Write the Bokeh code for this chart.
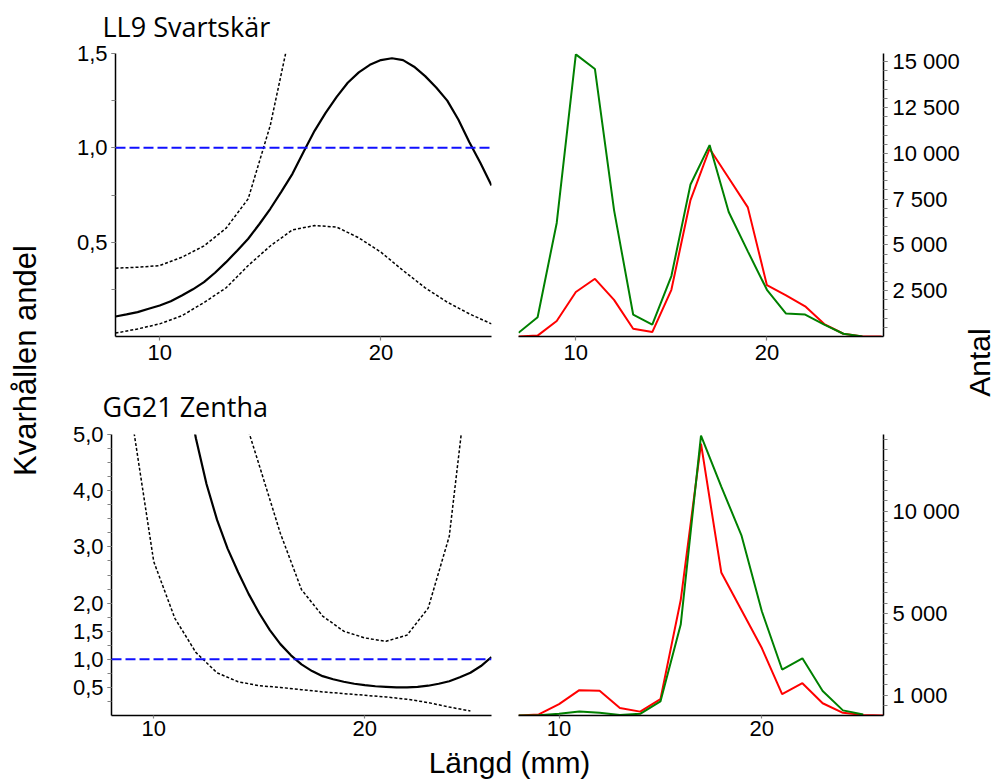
import math
from bokeh.plotting import figure
from bokeh.layouts import row, column
from bokeh.models import Range1d, FixedTicker, Label, Span
from bokeh.embed import file_html
from bokeh.resources import INLINE

# ---------------- data ----------------
# LL9 Svartskär – retained proportion (left)
tl_est_x = [8, 8.5, 9, 9.5, 10, 10.5, 11, 11.5, 12, 12.5, 13, 13.5, 14, 14.5, 15, 15.5, 16, 16.5,
            17, 17.5, 18, 18.5, 19, 19.5, 20, 20.5, 21, 21.5, 22, 22.5, 23, 23.5, 24, 24.5, 25]
tl_est = [0.106, 0.117, 0.129, 0.147, 0.164, 0.187, 0.217, 0.25, 0.288, 0.338, 0.394, 0.455, 0.518,
          0.595, 0.677, 0.768, 0.862, 0.978, 1.09, 1.185, 1.27, 1.345, 1.40, 1.44, 1.465, 1.475,
          1.465, 1.43, 1.38, 1.32, 1.25, 1.15, 1.03, 0.92, 0.80]
tl_upper_x = [8, 9, 10, 11, 12, 13, 14, 15, 16]
tl_upper = [0.362, 0.367, 0.376, 0.42, 0.48, 0.574, 0.73, 1.12, 1.67]
tl_lower_x = [8, 9, 10, 11, 12, 13, 14, 15, 16, 17, 18, 19, 20, 21, 22, 23, 24, 25]
tl_lower = [0.018, 0.04, 0.067, 0.11, 0.18, 0.258, 0.376, 0.48, 0.565, 0.588, 0.58, 0.523, 0.447,
            0.35, 0.258, 0.182, 0.12, 0.067]

# LL9 Svartskär – counts (right)
tr_green_x = [7, 8, 9, 10, 11, 12, 13, 14, 15, 16, 17, 18, 19, 20, 21, 22, 23, 24, 25]
tr_green = [200, 1050, 6200, 15400, 14600, 6900, 1200, 650, 3300, 8300, 10450, 6800, 4650, 2550,
            1250, 1200, 650, 150, 0]
tr_red_x = [7, 8, 9, 10, 11, 12, 13, 14, 15, 16, 17, 18, 19, 20, 21, 22, 23, 24, 25, 26]
tr_red = [0, 50, 850, 2430, 3150, 2000, 420, 240, 2550, 7450, 10250, 8650, 7050, 2800, 2250, 1650,
          680, 150, 0, 0]

# GG21 Zentha – retained proportion (left)
bl_est_x = [11, 11.5, 12, 12.5, 13, 13.5, 14, 14.5, 15, 15.5, 16, 16.5, 17, 17.5, 18, 18.5, 19, 19.5,
            20, 20.5, 21, 21.5, 22, 22.5, 23, 23.5, 24, 24.5, 25, 25.5, 26]
bl_est = [7.2, 5.9, 4.93, 4.12, 3.48, 2.97, 2.55, 2.16, 1.82, 1.52, 1.27, 1.07, 0.91, 0.79, 0.70,
          0.645, 0.60, 0.565, 0.54, 0.52, 0.51, 0.50, 0.50, 0.51, 0.53, 0.565, 0.61, 0.68, 0.76, 0.88, 1.04]
bl_lower_x = [9, 10, 11, 12, 13, 14, 15, 16, 17, 18, 19, 20, 21, 22, 23, 24, 25]
bl_lower = [5.2, 2.74, 1.73, 1.12, 0.76, 0.60, 0.53, 0.50, 0.46, 0.42, 0.39, 0.36, 0.33, 0.29, 0.23,
            0.15, 0.08]
bl_upper_x = [14, 15, 16, 17, 18, 19, 20, 21, 22, 23, 24, 25]
bl_upper = [5.65, 4.45, 3.24, 2.24, 1.77, 1.50, 1.38, 1.32, 1.43, 1.91, 3.19, 6.4]

# GG21 Zentha – counts (right)
br_green_x = [8, 9, 10, 11, 12, 13, 14, 15, 16, 17, 18, 19, 20, 21, 22, 23, 24, 25]
br_green = [0, 10, 80, 190, 130, 30, 80, 690, 4450, 13700, 11200, 8800, 5100, 2250, 2800, 1200, 250, 50]
br_red_x = [8, 9, 10, 11, 12, 13, 14, 15, 16, 17, 18, 19, 20, 21, 22, 23, 24, 25, 26]
br_red = [0, 50, 560, 1240, 1210, 370, 190, 800, 5650, 13300, 7000, 5150, 3300, 1050, 1580, 600,
          130, 30, 0]

# ticks
x_ticks = [10, 20]
x_labels = ["10", "20"]
tl_y_ticks = [0.5, 1.0, 1.5]
tl_y_labels = ["0,5", "1,0", "1,5"]
tl_y_minor = [0.25, 0.5, 0.75, 1.0, 1.25, 1.5]
bl_y_ticks = [0.5, 1.0, 1.5, 2.0, 3.0, 4.0, 5.0]
bl_y_labels = ["0,5", "1,0", "1,5", "2,0", "3,0", "4,0", "5,0"]
bl_y_minor = [0.25 * i for i in range(1, 21)]
tr_y_ticks = [2500, 5000, 7500, 10000, 12500, 15000]
tr_y_labels = ["2 500", "5 000", "7 500", "10 000", "12 500", "15 000"]
tr_y_minor = list(range(500, 15001, 500))
br_y_ticks = [1000, 5000, 10000]
br_y_labels = ["1 000", "5 000", "10 000"]
br_y_minor = list(range(500, 13501, 500))

TICK_FONT = "Liberation Sans"


def style_axis(ax, ticks, labels, minor=None):
    ax.ticker = FixedTicker(ticks=ticks, minor_ticks=minor or [])
    ax.major_label_overrides = dict(zip(ticks, labels))
    ax.major_label_text_font = TICK_FONT
    ax.major_label_text_font_size = "22px"
    ax.major_label_text_color = "black"
    ax.axis_line_color = "black"
    ax.axis_line_width = 1.5
    ax.major_tick_line_color = "#808080"
    ax.minor_tick_line_color = "#808080"
    ax.major_tick_line_width = 1.2
    ax.minor_tick_line_width = 1.2
    ax.major_tick_in = 0
    ax.major_tick_out = 4
    ax.minor_tick_in = 0
    ax.minor_tick_out = 4 if minor else 0
    ax.major_label_standoff = 4


def make_fig(w, h, xr, yr, bl, br, bt, bb, yloc="left", title=None, title_offset=0, standoff=13):
    f = figure(width=w, height=h, x_range=Range1d(*xr), y_range=Range1d(*yr),
               output_backend="svg", toolbar_location=None, y_axis_location=yloc,
               min_border_left=bl, min_border_right=br, min_border_top=bt, min_border_bottom=bb)
    f.outline_line_color = None
    f.grid.visible = False
    f.background_fill_color = "white"
    f.border_fill_color = "white"
    if title:
        f.title.text = title
        f.title.align = "left"
        f.title.vertical_align = "top"
        f.title.offset = title_offset
        f.title.text_font = "Open Sans"
        f.title.text_font_size = "27px"
        f.title.text_font_style = "normal"
        f.title.text_color = "black"
        f.title.standoff = standoff
    else:
        f.title = None
    return f


def strip(w, h):
    f = figure(width=w, height=h, x_range=Range1d(0, 1), y_range=Range1d(0, 1),
               output_backend="svg", toolbar_location=None, min_border=0,
               x_axis_location=None, y_axis_location=None)
    f.title = None
    f.outline_line_color = None
    f.grid.visible = False
    return f


DOT = "3 2"
BLUE_DASH = "10 4"

# ---------- top-left ----------
tl = make_fig(454, 380, (8, 25), (0, 1.5), 65, 13, 53, 44,
              title="LL9 Svartskär", title_offset=-13, standoff=13)
tl.add_layout(Span(location=1.0, dimension="width", line_color="#1010ff", line_width=2, line_dash=BLUE_DASH))
tl.line(tl_upper_x, tl_upper, line_color="black", line_width=1.5, line_dash=DOT)
tl.line(tl_lower_x, tl_lower, line_color="black", line_width=1.5, line_dash=DOT)
tl.line(tl_est_x, tl_est, line_color="black", line_width=2.2)
style_axis(tl.xaxis[0], x_ticks, x_labels)
style_axis(tl.yaxis[0], tl_y_ticks, tl_y_labels, tl_y_minor)

# ---------- top-right ----------
tr = make_fig(458, 380, (7, 26.1), (0, 15450), 14, 76, 53, 44, yloc="right")
tr.line(tr_red_x, tr_red, line_color="#ff0000", line_width=2)
tr.line(tr_green_x, tr_green, line_color="#008000", line_width=2)
style_axis(tr.xaxis[0], x_ticks, x_labels)
style_axis(tr.yaxis[0], tr_y_ticks, tr_y_labels, tr_y_minor)
tr.yaxis[0].major_label_standoff = 5

# ---------- bottom-left ----------
bl = make_fig(454, 365, (8, 26), (0, 5.0), 61, 13, 53, 30,
              title="GG21 Zentha", title_offset=-9, standoff=15)
bl.add_layout(Span(location=1.0, dimension="width", line_color="#1010ff", line_width=2, line_dash=BLUE_DASH))
bl.line(bl_lower_x, bl_lower, line_color="black", line_width=1.5, line_dash=DOT)
bl.line(bl_upper_x, bl_upper, line_color="black", line_width=1.5, line_dash=DOT)
bl.line(bl_est_x, bl_est, line_color="black", line_width=2.2)
style_axis(bl.xaxis[0], x_ticks, x_labels)
style_axis(bl.yaxis[0], bl_y_ticks, bl_y_labels, bl_y_minor)
bl.xaxis[0].major_tick_out = 3
bl.xaxis[0].major_label_standoff = 2

# ---------- bottom-right ----------
br = make_fig(458, 365, (8, 26), (0, 13750), 14, 76, 53, 30, yloc="right")
br.line(br_red_x, br_red, line_color="#ff0000", line_width=2)
br.line(br_green_x, br_green, line_color="#008000", line_width=2)
style_axis(br.xaxis[0], x_ticks, x_labels)
style_axis(br.yaxis[0], br_y_ticks, br_y_labels, br_y_minor)
br.yaxis[0].major_label_standoff = 5
br.xaxis[0].major_tick_out = 3
br.xaxis[0].major_label_standoff = 2

# ---------- outer label strips ----------
left = strip(50, 780)
left.add_layout(Label(x=25, y=420, x_units="screen", y_units="screen", text="Kvarhållen andel",
                      angle=math.pi / 2, text_align="center", text_baseline="middle",
                      text_font=TICK_FONT, text_font_size="31px", text_color="black"))
right = strip(36, 780)
right.add_layout(Label(x=17, y=418, x_units="screen", y_units="screen", text="Antal",
                       angle=math.pi / 2, text_align="center", text_baseline="middle",
                       text_font=TICK_FONT, text_font_size="30px", text_color="black"))
bottom = strip(912, 35)
bottom.add_layout(Label(x=459, y=18, x_units="screen", y_units="screen", text="Längd (mm)",
                        text_align="center", text_baseline="middle",
                        text_font=TICK_FONT, text_font_size="30px", text_color="black"))

mid = column(row(tl, tr), row(bl, br), bottom)
layout = row(left, mid, right)

open("out.html", "w").write(file_html(layout, INLINE))
